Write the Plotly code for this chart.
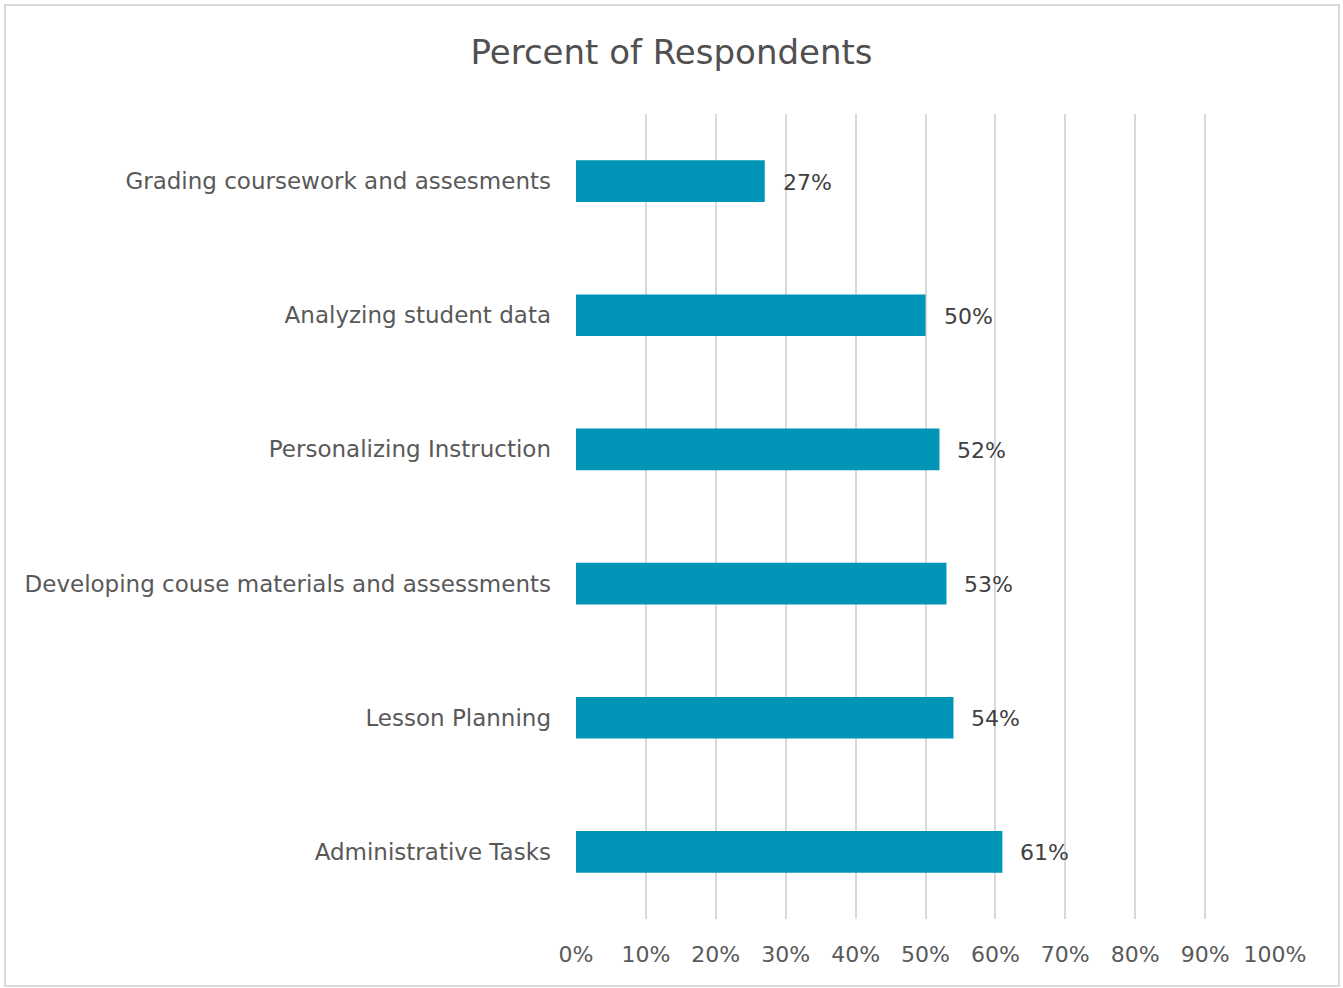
import plotly.graph_objects as go

categories = [
    "Grading coursework and assesments",
    "Analyzing student data",
    "Personalizing Instruction",
    "Developing couse materials and assessments",
    "Lesson Planning",
    "Administrative Tasks",
]
percent = [27, 50, 52, 53, 54, 61]
tick_vals = [0, 10, 20, 30, 40, 50, 60, 70, 80, 90, 100]
tick_text = [f"{v}%" for v in tick_vals]

BAR = "#0095B6"
FONT = "DejaVu Sans, sans-serif"

fig = go.Figure(
    go.Bar(
        x=percent,
        y=categories,
        orientation="h",
        marker=dict(color=BAR, line=dict(width=0)),
        hoverinfo="skip",
    )
)

# value labels just past the end of each bar
for cat, v in zip(categories, percent):
    fig.add_annotation(
        x=v,
        y=cat,
        text=f"{v}%",
        showarrow=False,
        xanchor="left",
        yanchor="middle",
        xshift=16,
        yshift=-1,
        font=dict(size=22, color="#404040", family=FONT),
    )

L, R, T, B = 576, 68, 114, 69
W, H = 1343, 988
pw, ph = W - L - R, H - T - B

fig.update_layout(
    width=W,
    height=H,
    margin=dict(l=L, r=R, t=T, b=B),
    paper_bgcolor="white",
    plot_bgcolor="white",
    bargap=0.69,
    showlegend=False,
    font=dict(family=FONT, color="#595959"),
    title=dict(
        text="Percent of Respondents",
        x=0.5,
        xanchor="center",
        y=1 - 52 / H,
        yanchor="middle",
        font=dict(size=34, color="#505050", family=FONT),
    ),
    xaxis=dict(
        range=[0, 100],
        tickvals=tick_vals,
        ticktext=tick_text,
        showgrid=True,
        gridcolor="#D9D9D9",
        gridwidth=2,
        zeroline=False,
        showline=False,
        ticks="",
        tickfont=dict(size=22, color="#595959"),
        ticklabelstandoff=20,
        fixedrange=True,
    ),
    yaxis=dict(
        autorange="reversed",
        showgrid=False,
        zeroline=False,
        showline=False,
        ticks="",
        tickfont=dict(size=23, color="#595959"),
        ticklabelstandoff=24,
        fixedrange=True,
    ),
    shapes=[
        dict(
            type="rect",
            xref="paper",
            yref="paper",
            x0=(5 - L) / pw,
            x1=(1339 - L) / pw,
            y0=(H - B - 986) / ph,
            y1=(H - B - 5) / ph,
            line=dict(color="#D9D9D9", width=2),
            fillcolor="rgba(0,0,0,0)",
            layer="below",
        )
    ],
)

fig.write_html("out.html")
